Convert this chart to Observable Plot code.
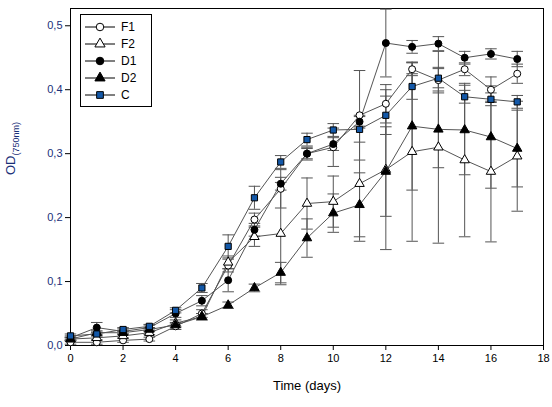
<!DOCTYPE html>
<html><head><meta charset="utf-8">
<script src="https://cdn.jsdelivr.net/npm/d3@7"></script>
<script src="https://cdn.jsdelivr.net/npm/@observablehq/plot@0.6"></script>
<style>
body{margin:0;background:#fff;font-family:"Liberation Sans",Arial,sans-serif}
#wrap{position:relative;width:552px;height:407px}
#legend{position:absolute;left:80px;top:14px;width:70px;border:1px solid #000;background:#fff;font-size:12px;padding:3px 0}
#legend div{height:17px;display:flex;align-items:center}
#legend svg{margin:0 6px 0 4px}
</style></head><body>
<div id="wrap"><div id="vis"></div><div id="legend"></div></div>
<script>
const days = d3.range(0, 18)
const F1 = [0.005,0.005,0.008,0.01,0.03,0.05,0.125,0.197,0.245,0.30,0.31,0.36,0.378,0.432,0.415,0.432,0.40,0.425]
const F2 = [0.01,0.012,0.015,0.02,0.035,0.045,0.13,0.17,0.175,0.222,0.225,0.253,0.275,0.303,0.31,0.29,0.272,0.296]
const D1 = [0.012,0.028,0.022,0.028,0.05,0.07,0.102,0.181,0.253,0.30,0.315,0.35,0.473,0.467,0.472,0.45,0.456,0.448]
const D2 = [0.01,0.02,0.02,0.025,0.032,0.045,0.063,0.09,0.114,0.168,0.207,0.22,0.272,0.343,0.338,0.337,0.326,0.308]
const C  = [0.015,0.018,0.025,0.03,0.055,0.09,0.155,0.231,0.287,0.322,0.337,0.338,0.36,0.405,0.418,0.389,0.385,0.381]
// error bars (± sd)
const F1e = [0.003,0.003,0.003,0.003,0.005,0.006,0.01,0.01,0.03,0.01,0.03,0.07,0.03,0.01,0.02,0.01,0.02,0.015]
const F2e = [0.003,0.003,0.003,0.003,0.005,0.005,0.01,0.015,0.08,0.04,0.04,0.09,0.125,0.14,0.15,0.12,0.11,0.086]
const D1e = [0.003,0.008,0.004,0.004,0.006,0.008,0.018,0.01,0.01,0.008,0.01,0.01,0.053,0.01,0.011,0.01,0.008,0.012]
const D2e = [0.002,0.003,0.003,0.003,0.004,0.005,0.005,0.006,0.016,0.03,0.03,0.05,0.07,0.1,0.06,0.07,0.08,0.06]
const Ce  = [0.003,0.003,0.003,0.003,0.004,0.007,0.018,0.018,0.01,0.01,0.01,0.02,0.03,0.02,0.015,0.01,0.01,0.01]

const series = [
  {name:"F1", v:F1, e:F1e, symbol:"circle", fill:"#fff"},
  {name:"F2", v:F2, e:F2e, symbol:"triangle", fill:"#fff"},
  {name:"D1", v:D1, e:D1e, symbol:"circle", fill:"#000"},
  {name:"D2", v:D2, e:D2e, symbol:"triangle", fill:"#000"},
  {name:"C",  v:C,  e:Ce,  symbol:"square", fill:"#1358a8"}
]
const data = series.flatMap(s => days.map((d,i) => ({day:d, od:s.v[i], err:s.e[i], name:s.name, symbol:s.symbol, fill:s.fill})))
const caps = data.flatMap(d => [{day:d.day, y:d.od - d.err}, {day:d.day, y:d.od + d.err}])
const fmt = d => d3.format(".1f")(d).replace(".", ",")

const chart = Plot.plot({
  width:552, height:407,
  marginLeft:70, marginRight:9, marginTop:8, marginBottom:62,
  style:{fontFamily:"Liberation Sans, Arial, sans-serif", fontSize:"11px", color:"#000"},
  x:{type:"linear", domain:[0,18], label:null},
  y:{type:"linear", domain:[0,0.527], label:null},
  symbol:{type:"identity"},
  marks:[
    Plot.frame({stroke:"#000"}),
    Plot.axisX({ticks:d3.range(0,19,2), tickSize:5, tickPadding:4, fontSize:11}),
    Plot.axisY({ticks:[0,0.1,0.2,0.3,0.4,0.5], tickFormat:fmt, tickSize:5, tickPadding:3, fontSize:11, fill:"#1a2f78"}),
    Plot.ruleX(data, {x:"day", y1:d => d.od - d.err, y2:d => d.od + d.err, stroke:"#555", strokeWidth:1}),
    Plot.link(caps, {x1:d => d.day - 0.22, x2:d => d.day + 0.22, y1:"y", y2:"y", stroke:"#555", strokeWidth:1}),
    Plot.line(data, {x:"day", y:"od", z:"name", stroke:"#555", strokeWidth:1}),
    Plot.dot(data, {x:"day", y:"od", symbol:"symbol", fill:"fill", stroke:"#000", r:3.5, strokeWidth:1}),
    Plot.text(["Time (days)"], {frameAnchor:"bottom", dy:44, fontSize:13}),
    Plot.text(["OD"], {frameAnchor:"left", dx:-60, dy:-2, rotate:-90, fontSize:13, fill:"#1a2f78"})
  ]
})
d3.select("#vis").append(() => chart)

const svg = d3.select(chart)
svg.selectAll("text").filter(function(){return this.textContent === "OD"}).each(function(){
  d3.select(this).append("tspan").attr("font-size", 9).attr("dy", 4).text("(750nm)")
})

const leg = d3.select("#legend")
series.forEach(s => {
  const row = leg.append("div")
  const sv = row.append("svg").attr("width", 30).attr("height", 12)
  sv.append("line").attr("x1",0).attr("x2",30).attr("y1",6).attr("y2",6).attr("stroke","#000")
  const sym = d3.symbol(s.symbol === "circle" ? d3.symbolCircle : s.symbol === "triangle" ? d3.symbolTriangle : d3.symbolSquare, 45)
  sv.append("path").attr("d", sym()).attr("transform","translate(15,6)").attr("fill", s.fill).attr("stroke","#000")
  row.append("span").text(s.name)
})
</script></body></html>
